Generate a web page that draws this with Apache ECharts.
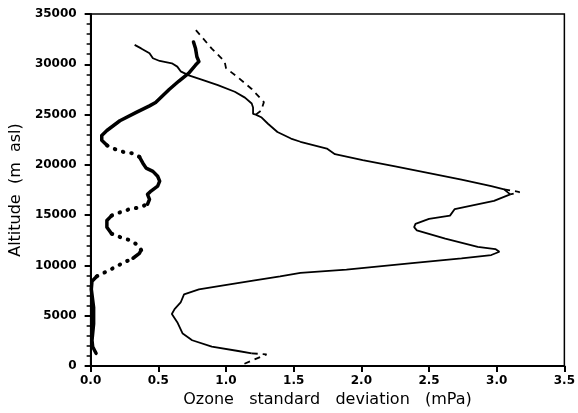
<!DOCTYPE html>
<html>
<head>
<meta charset="utf-8">
<script src="https://cdn.jsdelivr.net/npm/echarts@6/dist/echarts.min.js"></script>
<style>
html,body{margin:0;padding:0;background:#fff;}
#chart{width:578px;height:413px;}
</style>
</head>
<body>
<div id="chart"></div>
<script>
// Thin solid profile (ozone std, mPa) vs altitude (m)
const thinAlt = [1270,1500,1930,2570,3230,4370,5180,5660,6325,7137,7625,8000,8500,8930,9260,9580,10240,10710,11040,11370,11630,11860,12670,13500,13810,14140,14630,14960,15610,16430,17070,17570,17890,18530,19180,19850,20480,21070,21620,22300,22620,23270,24090,24740,25000,25060,25710,26100,26690,27270,27930,28480,28900,29300,29770,30100,30330,30600,31090,31580,31930];
const thinVal = [1.19,1.09,0.895,0.75,0.68,0.64,0.60,0.62,0.665,0.69,0.80,0.97,1.20,1.40,1.55,1.89,2.375,2.74,2.96,3.02,2.99,2.86,2.62,2.41,2.39,2.40,2.50,2.655,2.69,2.98,3.10,3.055,2.96,2.74,2.50,2.25,2.01,1.805,1.745,1.55,1.48,1.38,1.31,1.26,1.22,1.20,1.20,1.19,1.14,1.065,0.94,0.82,0.725,0.665,0.64,0.60,0.51,0.46,0.435,0.373,0.325];

// Dashed profile, drawn where it departs from the thin line (null = gap)
const dashAlt = [1270,1170,200,null,17570,17300,17070,null,25000,25400,26240,27550,28680,29620,30270,31560,32890,33670];
const dashVal = [1.19,1.30,1.13,null,3.055,3.17,3.10,null,1.22,1.26,1.28,1.19,1.09,1.00,0.99,0.895,0.81,0.76];

// Thick profile
const thickAlt = [1270,1440,1930,2570,4200,5840,7630,8440,8930,9420,9900,10330,10720,11210,11540,12020,12510,12830,13160,13810,14470,14960,15280,15610,15770,16090,16580,17070,17400,17890,18380,18870,19360,19680,20170,20800,21140,21300,21620,21950,22440,22930,23420,24390,25220,25870,26200,26850,27490,28310,29130,29930,30270,30750,31560,32220];
const thickVal = [0.04,0.034,0.015,0.01,0.022,0.022,0.005,0.01,0.046,0.12,0.19,0.25,0.313,0.36,0.373,0.35,0.29,0.216,0.155,0.12,0.12,0.155,0.216,0.29,0.36,0.42,0.435,0.42,0.446,0.495,0.51,0.495,0.46,0.41,0.386,0.36,0.313,0.24,0.167,0.12,0.082,0.082,0.12,0.216,0.337,0.435,0.48,0.53,0.58,0.65,0.725,0.775,0.80,0.785,0.775,0.76];
// Altitude ranges where the thick profile is drawn dotted
const dottedRanges = [[8930,10720],[11540,13160],[14960,16090],[20800,21950]];

const xTicks = ['0.0','0.5','1.0','1.5','2.0','2.5','3.0','3.5'];
const yTicks = [0,5000,10000,15000,20000,25000,30000,35000];

function pairs(vals, alts){
  return vals.map((v,i)=> (v===null ? [null,null] : [v, alts[i]]));
}
function inDotted(a, strict){
  return dottedRanges.some(r => strict ? (a>r[0] && a<r[1]) : (a>=r[0] && a<=r[1]));
}
const thickSolid = [], thickDotted = [];
thickAlt.forEach((a,i)=>{
  if (inDotted(a,true)) {
    if (thickSolid.length && thickSolid[thickSolid.length-1][0]!==null) thickSolid.push([null,null]);
  } else thickSolid.push([thickVal[i], a]);
});
dottedRanges.forEach((r,k)=>{
  thickAlt.forEach((a,i)=>{ if (a>=r[0] && a<=r[1]) thickDotted.push([thickVal[i], a]); });
  if (k<dottedRanges.length-1) thickDotted.push([null,null]);
});

const FONT = 'DejaVu Sans';
const chart = echarts.init(document.getElementById('chart'), null, {renderer:'canvas'});
chart.setOption({
  animation:false,
  backgroundColor:'#fff',
  grid:{left:86, top:14, width:482, height:359, show:true, borderColor:'#000', borderWidth:1.5, backgroundColor:'transparent'},
  xAxis:{
    type:'value', min:0, max:3.5, interval:0.5,
    name:'Ozone   standard   deviation   (mPa)', nameLocation:'middle', nameGap:22,
    nameTextStyle:{fontFamily:FONT, fontSize:16, color:'#000'},
    axisLine:{lineStyle:{color:'#000', width:2}},
    axisTick:{show:true, inside:false, length:6, lineStyle:{color:'#000', width:2}},
    axisLabel:{color:'#000', fontFamily:FONT, fontWeight:'bold', fontSize:12, margin:9,
      formatter:(v)=> xTicks[Math.round(v/0.5)]},
    splitLine:{show:false}
  },
  yAxis:{
    type:'value', min:0, max:35000, interval:5000,
    name:'Altitude  (m  asl)', nameLocation:'middle', nameGap:57,
    nameTextStyle:{fontFamily:FONT, fontSize:16, color:'#000'},
    axisLine:{lineStyle:{color:'#000', width:2}},
    axisTick:{show:true, inside:false, length:6, lineStyle:{color:'#000', width:2}},
    minorTick:{show:true, splitNumber:5, length:4, lineStyle:{color:'#000', width:1.5}},
    axisLabel:{color:'#000', fontFamily:FONT, fontWeight:'bold', fontSize:12, margin:14,
      formatter:(v)=> String(yTicks[Math.round(v/5000)])},
    splitLine:{show:false}, minorSplitLine:{show:false}
  },
  series:[
    {type:'line', data:pairs(thinVal, thinAlt), showSymbol:false, symbol:'none', smooth:false,
     lineStyle:{color:'#000', width:1.8}},
    {type:'line', data:pairs(dashVal, dashAlt), showSymbol:false, symbol:'none', connectNulls:false,
     lineStyle:{color:'#000', width:1.8, type:[6,5]}},
    {type:'line', data:thickSolid, showSymbol:false, symbol:'none', connectNulls:false,
     lineStyle:{color:'#000', width:3.5, cap:'round', join:'round'}},
    {type:'line', data:thickDotted, showSymbol:false, symbol:'none', connectNulls:false,
     lineStyle:{color:'#000', width:4, type:[0.5,8], cap:'round'}}
  ]
});
</script>
</body>
</html>
